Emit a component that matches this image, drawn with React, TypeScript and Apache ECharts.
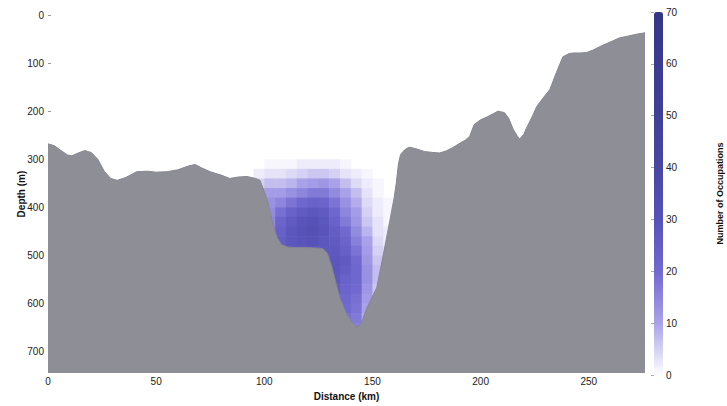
import React, { useEffect, useRef } from "react";
import * as echarts from "echarts";

// Bathymetry profile (distance along section in km, seafloor depth in m)
const profileDistanceKm = [
  0, 3, 6, 9, 11, 14, 17, 20, 23, 26, 29, 32, 36, 41, 46, 50, 55, 60, 65, 68,
  71, 75, 80, 84, 88, 92, 96, 98, 100, 102, 104, 106, 108, 111, 115, 120, 125,
  127, 129, 131, 133, 135, 138, 141, 143, 145, 147, 150, 152, 155, 158, 160,
  161, 162, 163, 165, 167, 170, 174, 178, 181, 184, 187, 190, 193, 195, 197,
  200, 203, 206, 208, 211, 213, 215, 217, 218, 220, 221, 224, 226, 229, 232,
  235, 238, 241, 243, 246, 249, 252, 255, 258, 261, 264, 268, 272, 276,
];
const profileDepthM = [
  268, 272, 282, 291, 293, 287, 282, 286, 300, 325, 340, 344, 338, 326, 325,
  327, 326, 322, 314, 311, 318, 326, 333, 340, 337, 336, 340, 344, 367, 395,
  437, 464, 478, 483, 484, 484, 485, 486, 495, 520, 555, 590, 622, 642, 650,
  640, 614, 585, 567, 499, 429, 381, 350, 310, 290, 280, 275, 278, 284, 286,
  287, 283, 276, 268, 260, 252, 228, 218, 212, 205, 200, 203, 215, 237, 252,
  258, 248, 237, 210, 190, 172, 155, 120, 87, 80, 79, 79, 78, 73, 66, 60, 54,
  48, 44, 40, 37,
];

// Occupation counts binned by distance (5 km) and depth (20 m)
const binDistanceStartsKm = [95, 100, 105, 110, 115, 120, 125, 130, 135, 140, 145, 150, 155, 160];
const binDepthStartsM = [300, 320, 340, 360, 380, 400, 420, 440, 460, 480, 500, 520, 540, 560, 580, 600, 620, 640];
const binWidthKm = 5;
const binHeightM = 20;
// one array per distance bin, values from shallow to deep
const occupationsByColumn = [
  [0, 2, 5, 9, 8, 0, 0, 0, 0, 0, 0, 0, 0, 0, 0, 0, 0, 0],
  [1, 3, 7, 11, 13, 14, 15, 16, 16, 0, 0, 0, 0, 0, 0, 0, 0, 0],
  [1, 3, 7, 11, 15, 19, 22, 24, 25, 24, 0, 0, 0, 0, 0, 0, 0, 0],
  [1, 4, 8, 13, 18, 23, 26, 28, 28, 26, 0, 0, 0, 0, 0, 0, 0, 0],
  [2, 5, 10, 15, 21, 26, 29, 30, 29, 27, 0, 0, 0, 0, 0, 0, 0, 0],
  [2, 6, 11, 17, 23, 28, 31, 32, 30, 28, 0, 0, 0, 0, 0, 0, 0, 0],
  [2, 6, 12, 17, 22, 26, 28, 29, 28, 27, 26, 0, 0, 0, 0, 0, 0, 0],
  [2, 5, 10, 14, 18, 21, 23, 25, 26, 27, 28, 28, 27, 26, 25, 0, 0, 0],
  [1, 3, 7, 10, 13, 15, 17, 20, 22, 24, 26, 25, 23, 22, 21, 20, 19, 18],
  [0, 2, 4, 7, 9, 11, 12, 14, 16, 18, 20, 21, 21, 20, 19, 18, 17, 16],
  [0, 1, 2, 3, 4, 5, 6, 8, 10, 11, 12, 13, 13, 12, 11, 10, 9, 0],
  [0, 0, 1, 1, 2, 2, 3, 3, 4, 5, 6, 7, 7, 6, 5, 0, 0, 0],
  [0, 0, 0, 0, 1, 1, 1, 2, 2, 3, 3, 0, 0, 0, 0, 0, 0, 0],
  [0, 0, 0, 0, 0, 0, 0, 0, 0, 0, 0, 0, 0, 0, 0, 0, 0, 0],
];

const colorbarColors = ["#ffffff", "#aaa2e8", "#7169cf", "#5752b8", "#4846a2", "#414097", "#3b3b8f", "#363689"];

const FONT = "Liberation Sans";

export default function App() {
  const ref = useRef<HTMLDivElement>(null);

  useEffect(() => {
    if (!ref.current) return;
    const chart = echarts.init(ref.current, null, { renderer: "svg" });

    const profile = profileDistanceKm.map((d, i) => [d, profileDepthM[i]]);
    const cells: number[][] = [];
    occupationsByColumn.forEach((col, i) => {
      col.forEach((v, j) => {
        if (v > 0) cells.push([binDistanceStartsKm[i], binDepthStartsM[j], v]);
      });
    });

    chart.setOption({
      animation: false,
      backgroundColor: "#ffffff",
      textStyle: { fontFamily: FONT },
      grid: [
        { left: 48, top: 15, width: 597, height: 361 },
        { left: 654, top: 12, width: 9, height: 363 },
      ],
      xAxis: [
        {
          gridIndex: 0,
          type: "value",
          min: 0,
          max: 276,
          interval: 50,
          name: "Distance (km)",
          nameLocation: "middle",
          nameGap: 14,
          nameTextStyle: { fontSize: 10, fontWeight: "bold", color: "#111", fontFamily: FONT },
          axisLine: { show: false },
          axisTick: { show: false },
          splitLine: { show: false },
          axisLabel: { fontSize: 10, color: "#222", margin: 3, showMaxLabel: false, fontFamily: FONT },
        },
        { gridIndex: 1, type: "value", show: false, min: 0, max: 1 },
      ],
      yAxis: [
        {
          gridIndex: 0,
          type: "value",
          inverse: true,
          min: 0,
          max: 745,
          interval: 100,
          name: "Depth (m)",
          nameLocation: "middle",
          nameGap: 22,
          nameMoveOverlap: false,
          nameTextStyle: { fontSize: 10, fontWeight: "bold", color: "#111", fontFamily: FONT },
          axisLine: { show: false },
          axisTick: { show: true, inside: true, length: 3, lineStyle: { color: "#999" } },
          splitLine: { show: false },
          axisLabel: { fontSize: 10, color: "#222", margin: 4, showMaxLabel: false, fontFamily: FONT },
        },
        {
          gridIndex: 1,
          type: "value",
          position: "right",
          min: 0,
          max: 70,
          interval: 10,
          name: "Number of Occupations",
          nameLocation: "middle",
          nameGap: 52,
          nameMoveOverlap: false,
          nameTextStyle: { fontSize: 9, fontWeight: "bold", color: "#111", fontFamily: FONT },
          axisLine: { show: false },
          axisTick: { show: true, inside: true, length: 3, lineStyle: { color: "#aaa" } },
          splitLine: { show: false },
          axisLabel: { fontSize: 10, color: "#222", margin: 3, fontFamily: FONT },
        },
      ],
      visualMap: {
        type: "continuous",
        min: 0,
        max: 70,
        dimension: 2,
        seriesIndex: 0,
        left: 654,
        top: 12,
        itemWidth: 9,
        itemHeight: 363,
        padding: 0,
        calculable: false,
        hoverLink: false,
        inRange: { color: colorbarColors },
      },
      series: [
        {
          type: "custom",
          xAxisIndex: 0,
          yAxisIndex: 0,
          z: 1,
          data: cells,
          encode: { x: 0, y: 1 },
          renderItem: (params: any, api: any) => {
            const x0 = api.value(0);
            const y0 = api.value(1);
            const p1 = api.coord([x0, y0]);
            const p2 = api.coord([x0 + binWidthKm, y0 + binHeightM]);
            return {
              type: "rect",
              shape: {
                x: p1[0],
                y: p1[1],
                width: p2[0] - p1[0] + 0.6,
                height: p2[1] - p1[1] + 0.6,
              },
              style: { fill: api.visual("color") },
            };
          },
        },
        {
          type: "line",
          xAxisIndex: 0,
          yAxisIndex: 0,
          z: 3,
          data: profile,
          symbol: "none",
          smooth: false,
          lineStyle: { color: "#878790", width: 1 },
          areaStyle: { color: "#8e8e96", opacity: 1, origin: "end" },
        },
      ],
    });

    return () => chart.dispose();
  }, []);

  return (
    <div
      ref={ref}
      style={{ position: "absolute", left: 0, top: 0, width: 727, height: 406 }}
    />
  );
}
